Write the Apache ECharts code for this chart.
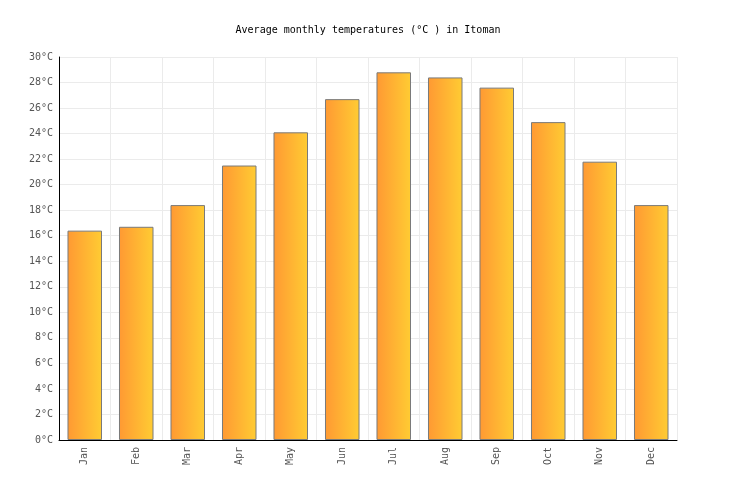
<!DOCTYPE html>
<html>
<head>
<meta charset="utf-8">
<script src="https://cdn.jsdelivr.net/npm/echarts@6/dist/echarts.min.js"></script>
<style>html,body{margin:0;padding:0;background:#fff}#c{width:736px;height:500px}</style>
</head>
<body>
<div id="c"></div>
<script>
const titleText = 'Average monthly temperatures (°C ) in Itoman';
const months = ['Jan','Feb','Mar','Apr','May','Jun','Jul','Aug','Sep','Oct','Nov','Dec'];
const temps = [16.4, 16.7, 18.4, 21.5, 24.1, 26.7, 28.8, 28.4, 27.6, 24.9, 21.8, 18.4];
const yMin = 0, yMax = 30, yStep = 2;

const font = 'DejaVu Sans Mono';
const chart = echarts.init(document.getElementById('c'));
chart.setOption({
  animation: false,
  backgroundColor: '#fff',
  title: {
    text: titleText, left: 'center', top: 20,
    textStyle: {fontFamily: font, fontSize: 10, fontWeight: 'normal', color: '#000'}
  },
  grid: {left: 59, right: 59, top: 57, bottom: 60},
  xAxis: {
    type: 'category', data: months,
    axisLine: {lineStyle: {color: '#000', width: 1}},
    axisTick: {show: false},
    axisLabel: {rotate: 90, fontFamily: font, fontSize: 10, color: '#555', margin: 7},
    splitLine: {show: true, lineStyle: {color: '#ebebeb'}}
  },
  yAxis: {
    type: 'value', min: yMin, max: yMax, interval: yStep,
    axisLine: {show: true, lineStyle: {color: '#000', width: 1}},
    axisTick: {show: false},
    axisLabel: {formatter: '{value}°C', fontFamily: font, fontSize: 10, color: '#555', margin: 6},
    splitLine: {show: true, lineStyle: {color: '#ebebeb'}}
  },
  series: [{
    type: 'bar', data: temps, barWidth: '67%',
    itemStyle: {
      borderColor: '#7a7a7a', borderWidth: 1,
      color: new echarts.graphic.LinearGradient(0, 0, 1, 0, [
        {offset: 0, color: '#ff9933'}, {offset: 1, color: '#ffcc33'}
      ])
    }
  }]
});
</script>
</body>
</html>
